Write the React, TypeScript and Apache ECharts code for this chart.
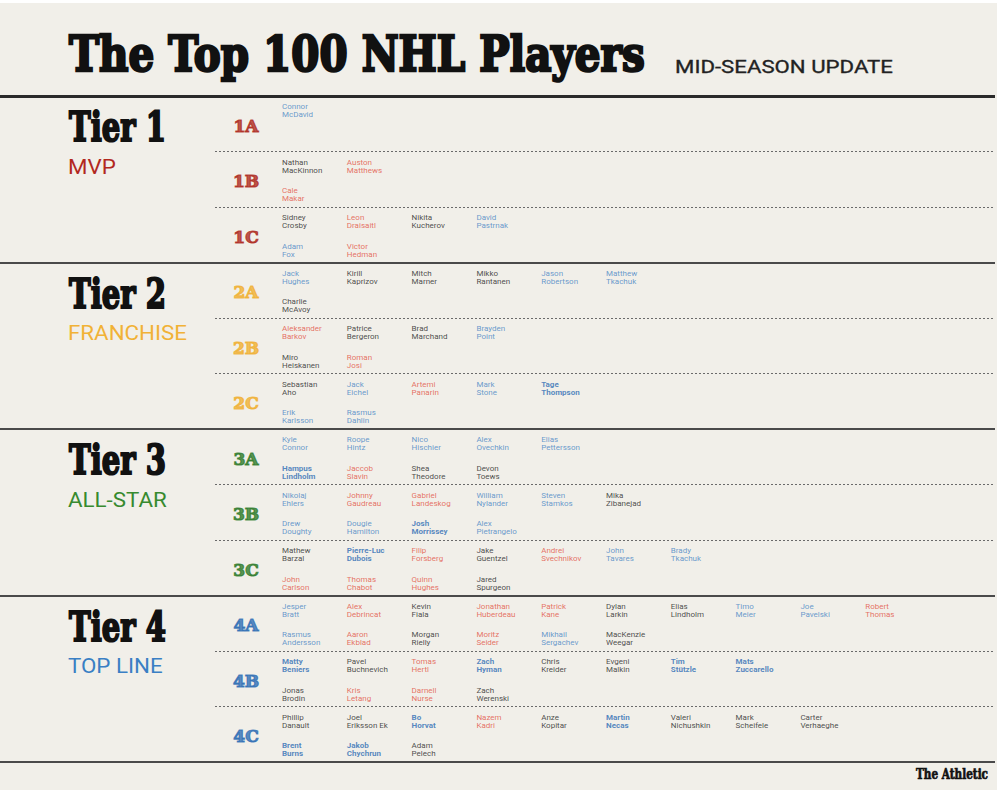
import React, { useEffect, useRef } from "react";
import * as echarts from "echarts";

// ---------- DATA ----------
const subTiers = ["1A", "1B", "1C", "2A", "2B", "2C", "3A", "3B", "3C", "4A", "4B", "4C"];
const tierTitles = ["Tier 1", "Tier 2", "Tier 3", "Tier 4"];
const tierNames = ["MVP", "FRANCHISE", "ALL-STAR", "TOP LINE"];
const tierColors = ["#b2281e", "#f1b236", "#378a2f", "#3a7fc4"];
const subTierColors = ["#ae2a20", "#f0b032", "#2f7b2b", "#2f6eb5"];

// first row of each sub-tier (forwards)
const forwards: string[][] = [
  ["Connor McDavid"],
  ["Nathan MacKinnon", "Auston Matthews"],
  ["Sidney Crosby", "Leon Draisaitl", "Nikita Kucherov", "David Pastrnak"],
  ["Jack Hughes", "Kirill Kaprizov", "Mitch Marner", "Mikko Rantanen", "Jason Robertson", "Matthew Tkachuk"],
  ["Aleksander Barkov", "Patrice Bergeron", "Brad Marchand", "Brayden Point"],
  ["Sebastian Aho", "Jack Eichel", "Artemi Panarin", "Mark Stone", "Tage Thompson"],
  ["Kyle Connor", "Roope Hintz", "Nico Hischier", "Alex Ovechkin", "Elias Pettersson"],
  ["Nikolaj Ehlers", "Johnny Gaudreau", "Gabriel Landeskog", "William Nylander", "Steven Stamkos", "Mika Zibanejad"],
  ["Mathew Barzal", "Pierre-Luc Dubois", "Filip Forsberg", "Jake Guentzel", "Andrei Svechnikov", "John Tavares", "Brady Tkachuk"],
  ["Jesper Bratt", "Alex Debrincat", "Kevin Fiala", "Jonathan Huberdeau", "Patrick Kane", "Dylan Larkin", "Elias Lindholm", "Timo Meier", "Joe Pavelski", "Robert Thomas"],
  ["Matty Beniers", "Pavel Buchnevich", "Tomas Hertl", "Zach Hyman", "Chris Kreider", "Evgeni Malkin", "Tim Stützle", "Mats Zuccarello"],
  ["Phillip Danault", "Joel Eriksson Ek", "Bo Horvat", "Nazem Kadri", "Anze Kopitar", "Martin Necas", "Valeri Nichushkin", "Mark Scheifele", "Carter Verhaeghe"],
];

// second row of each sub-tier (defencemen)
const defense: string[][] = [
  [],
  ["Cale Makar"],
  ["Adam Fox", "Victor Hedman"],
  ["Charlie McAvoy"],
  ["Miro Heiskanen", "Roman Josi"],
  ["Erik Karlsson", "Rasmus Dahlin"],
  ["Hampus Lindholm", "Jaccob Slavin", "Shea Theodore", "Devon Toews"],
  ["Drew Doughty", "Dougie Hamilton", "Josh Morrissey", "Alex Pietrangelo"],
  ["John Carlson", "Thomas Chabot", "Quinn Hughes", "Jared Spurgeon"],
  ["Rasmus Andersson", "Aaron Ekblad", "Morgan Rielly", "Moritz Seider", "Mikhail Sergachev", "MacKenzie Weegar"],
  ["Jonas Brodin", "Kris Letang", "Darnell Nurse", "Zach Werenski"],
  ["Brent Burns", "Jakob Chychrun", "Adam Pelech"],
];

const risers = [
  "Connor McDavid", "David Pastrnak", "Adam Fox", "Jack Hughes", "Jason Robertson", "Matthew Tkachuk",
  "Brayden Point", "Jack Eichel", "Mark Stone", "Erik Karlsson", "Rasmus Dahlin", "Kyle Connor",
  "Roope Hintz", "Nico Hischier", "Alex Ovechkin", "Elias Pettersson", "Nikolaj Ehlers", "William Nylander",
  "Steven Stamkos", "Drew Doughty", "Dougie Hamilton", "Alex Pietrangelo", "John Tavares", "Brady Tkachuk",
  "Jesper Bratt", "Timo Meier", "Joe Pavelski", "Rasmus Andersson", "Mikhail Sergachev",
];
const fallers = [
  "Auston Matthews", "Cale Makar", "Leon Draisaitl", "Victor Hedman", "Aleksander Barkov", "Roman Josi",
  "Artemi Panarin", "Jaccob Slavin", "Johnny Gaudreau", "Gabriel Landeskog", "Filip Forsberg",
  "Andrei Svechnikov", "John Carlson", "Thomas Chabot", "Quinn Hughes", "Alex Debrincat",
  "Jonathan Huberdeau", "Patrick Kane", "Robert Thomas", "Aaron Ekblad", "Moritz Seider", "Tomas Hertl",
  "Kris Letang", "Darnell Nurse", "Nazem Kadri",
];
const newcomers = [
  "Tage Thompson", "Hampus Lindholm", "Josh Morrissey", "Pierre-Luc Dubois", "Matty Beniers", "Zach Hyman",
  "Tim Stützle", "Mats Zuccarello", "Bo Horvat", "Martin Necas", "Brent Burns", "Jakob Chychrun",
];

// ---------- LAYOUT ----------
const W = 998;
const H = 800;
const X0 = 282; // first column of names
const COL_W = 64.8;
const GRID_TOP = 96;
const GRID_H = 666;
const PLOT_RIGHT = 995;
const X_MIN = -X0 / COL_W;
const X_MAX = (PLOT_RIGHT - X0) / COL_W;
const SUB_H = GRID_H / subTiers.length;
const ROW_OFFSETS = [0.27, 0.775];
const SUB_LABEL_X = (246 - X0) / COL_W;
const SUB_LABEL_Y = 0.54;
const DASH_X = (215 - X0) / COL_W;
const BG = "#f1efe9";

const COLOR_SAME = "#222222";
const COLOR_UP = "#4583c4";
const COLOR_DOWN = "#e2503f";
const COLOR_NEW = "#2d6cb4";

function measure(text: string, font: string): number {
  const ctx = document.createElement("canvas").getContext("2d");
  if (!ctx) return 1;
  ctx.font = font;
  return ctx.measureText(text).width || 1;
}

function nameStyle(name: string) {
  if (newcomers.includes(name)) return { color: COLOR_NEW, fontWeight: "bold" as const };
  if (risers.includes(name)) return { color: COLOR_UP, fontWeight: "normal" as const };
  if (fallers.includes(name)) return { color: COLOR_DOWN, fontWeight: "normal" as const };
  return { color: COLOR_SAME, fontWeight: "normal" as const };
}

function splitName(name: string) {
  const i = name.indexOf(" ");
  return i < 0 ? name : name.slice(0, i) + "\n" + name.slice(i + 1);
}

export default function App() {
  const ref = useRef<HTMLDivElement>(null);

  useEffect(() => {
    if (!ref.current) return;
    const chart = echarts.init(ref.current, null, { renderer: "svg" });

    const playerData: any[] = [];
    subTiers.forEach((_, i) => {
      [forwards[i], defense[i]].forEach((list, r) => {
        list.forEach((name, c) => {
          const st = nameStyle(name);
          playerData.push({
            name,
            value: [c, i + ROW_OFFSETS[r]],
            label: { color: st.color, fontWeight: st.fontWeight },
          });
        });
      });
    });

    const subData = subTiers.map((s, i) => ({
      name: s,
      value: [SUB_LABEL_X, i + SUB_LABEL_Y],
      label: {
        color: subTierColors[Math.floor(i / 3)],
        textBorderColor: subTierColors[Math.floor(i / 3)],
      },
    }));

    const solidRules: any[] = [];
    const dashedRules: any[] = [];
    for (let k = 0; k <= subTiers.length; k++) {
      if (k % 3 === 0) {
        solidRules.push({
          yAxis: k,
          lineStyle: { width: k === 0 ? 3 : 2, color: k === 0 ? "#2a2a2a" : "#4a4a4a", type: "solid" },
        });
      } else {
        dashedRules.push([
          { coord: [DASH_X, k], lineStyle: { width: 1, color: "#6a6a6a", type: [2, 2] } },
          { coord: [X_MAX, k] },
        ]);
      }
    }

    // scaled headline texts
    const titleFont = 'bold 48px "DejaVu Serif"';
    const titleText = "The Top 100 NHL Players";
    const titleSx = 576 / measure(titleText, titleFont);
    const updFont = '18px Roboto';
    const updText = "MID-SEASON UPDATE";
    const updSx = 218 / measure(updText, updFont);
    const tierFont = 'bold 41px "DejaVu Serif"';
    const tierSx = 97 / measure("Tier 1", tierFont);
    const tierSubFont = '20px Roboto';
    const tierSubSx = 119 / measure("FRANCHISE", tierSubFont);
    const brandFont = 'bold 14px "DejaVu Serif"';
    const brandSx = 72 / measure("The Athletic", brandFont);

    const graphics: any[] = [
      {
        type: "rect",
        z: -10,
        silent: true,
        shape: { x: 0, y: 3, width: 997, height: 787 },
        style: { fill: BG },
      },
      {
        type: "text",
        x: 69,
        y: 54,
        scaleX: titleSx,
        silent: true,
        style: {
          x: 0, y: 0, text: titleText,
          fontFamily: "DejaVu Serif", fontWeight: "bold", fontSize: 48,
          fill: "#111", stroke: "#111", lineWidth: 2.6,
          align: "left", verticalAlign: "middle", textAlign: "left", textVerticalAlign: "middle",
        },
      },
      {
        type: "text",
        x: 675,
        y: 66.5,
        scaleX: updSx,
        silent: true,
        style: {
          x: 0, y: 0, text: updText,
          fontFamily: "Roboto", fontSize: 18, fill: "#222", stroke: "#222", lineWidth: 0.3,
          align: "left", verticalAlign: "middle", textAlign: "left", textVerticalAlign: "middle",
        },
      },
      {
        type: "text",
        x: 988,
        y: 774,
        scaleX: brandSx,
        silent: true,
        style: {
          x: 0, y: 0, text: "The Athletic",
          fontFamily: "DejaVu Serif", fontWeight: "bold", fontSize: 14,
          fill: "#111", stroke: "#111", lineWidth: 0.7,
          align: "right", verticalAlign: "middle", textAlign: "right", textVerticalAlign: "middle",
        },
      },
    ];

    tierTitles.forEach((t, ti) => {
      const top = GRID_TOP + ti * 3 * SUB_H;
      graphics.push({
        type: "text",
        x: 69,
        y: top + 31,
        scaleX: tierSx,
        silent: true,
        style: {
          x: 0, y: 0, text: t,
          fontFamily: "DejaVu Serif", fontWeight: "bold", fontSize: 41,
          fill: "#111", stroke: "#111", lineWidth: 2.2,
          align: "left", verticalAlign: "middle", textAlign: "left", textVerticalAlign: "middle",
        },
      });
      graphics.push({
        type: "text",
        x: 68,
        y: top + 70.5,
        scaleX: tierSubSx,
        silent: true,
        style: {
          x: 0, y: 0, text: tierNames[ti],
          fontFamily: "Roboto", fontSize: 20, fill: tierColors[ti],
          align: "left", verticalAlign: "middle", textAlign: "left", textVerticalAlign: "middle",
        },
      });
    });

    chart.setOption({
      animation: false,
      backgroundColor: "#ffffff",
      grid: { left: 0, top: GRID_TOP, width: PLOT_RIGHT, height: GRID_H, containLabel: false },
      xAxis: { type: "value", min: X_MIN, max: X_MAX, show: false },
      yAxis: { type: "value", min: 0, max: subTiers.length, inverse: true, show: false },
      graphic: graphics,
      series: [
        {
          type: "scatter",
          name: "subtiers",
          symbolSize: 0,
          silent: true,
          clip: false,
          data: subData,
          label: {
            show: true,
            position: "inside",
            formatter: "{b}",
            fontFamily: "DejaVu Serif",
            fontWeight: "bold",
            fontSize: 17,
            textBorderWidth: 1.2,
            align: "center",
            verticalAlign: "middle",
          },
          markLine: {
            silent: true,
            symbol: ["none", "none"],
            label: { show: false },
            data: [...solidRules, ...dashedRules],
          },
        },
        {
          type: "scatter",
          name: "players",
          symbolSize: 0,
          silent: true,
          clip: false,
          data: playerData,
          label: {
            show: true,
            position: "right",
            distance: 0,
            formatter: (p: any) => splitName(p.name),
            fontFamily: "Roboto",
            fontSize: 8,
            lineHeight: 8,
            align: "left",
            verticalAlign: "middle",
          },
        },
      ],
    });

    return () => chart.dispose();
  }, []);

  return (
    <div
      ref={ref}
      style={{ position: "absolute", left: 0, top: 0, width: W, height: H }}
    />
  );
}
